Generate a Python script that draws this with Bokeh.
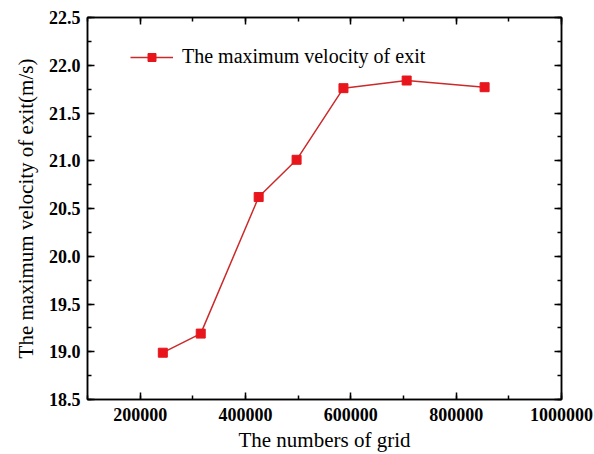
from bokeh.plotting import figure
from bokeh.models import (LinearAxis, SingleIntervalTicker, NumeralTickFormatter,
                          CustomJSTickFormatter, Legend, LegendItem, Range1d)
from bokeh.embed import file_html
from bokeh.resources import INLINE

grid_numbers = [243000, 315000, 425000, 497000, 586000, 706000, 854000]
max_velocity = [18.99, 19.19, 20.62, 21.01, 21.76, 21.84, 21.77]
series_name = "The maximum velocity of exit"
x_title = "The numbers of grid"
y_title = "The maximum velocity of exit(m/s)"

RED = "#e8161c"
LINE_RED = "#cc2a2a"
FONT = "Liberation Serif"

p = figure(width=594, height=454, output_backend="svg", toolbar_location=None,
           x_range=Range1d(100000, 1000000), y_range=Range1d(18.5, 22.5),
           min_border_left=87, min_border_right=33, min_border_top=17,
           min_border_bottom=55)
p.xgrid.visible = False
p.ygrid.visible = False
p.outline_line_color = "black"
p.outline_line_width = 1.5
p.background_fill_color = "white"
p.border_fill_color = "white"

xt = SingleIntervalTicker(interval=200000, num_minor_ticks=2)
yt = SingleIntervalTicker(interval=0.5, num_minor_ticks=2)

def style(ax, show_labels):
    ax.axis_line_width = 1.5
    ax.axis_line_color = "black"
    ax.major_tick_in = 7
    ax.major_tick_out = 0
    ax.minor_tick_in = 4
    ax.minor_tick_out = 0
    ax.major_tick_line_width = 1.5
    ax.minor_tick_line_width = 1.5
    if show_labels:
        ax.major_label_text_font = FONT
        ax.major_label_text_font_style = "bold"
        ax.major_label_text_font_size = "18px"
        ax.major_label_text_color = "black"
        ax.axis_label_text_font = FONT
        ax.axis_label_text_font_style = "normal"
        ax.axis_label_text_font_size = "21px"
        ax.axis_label_text_color = "black"
    else:
        ax.formatter = CustomJSTickFormatter(code="return ''")
        ax.major_label_standoff = 0

xa = p.xaxis[0]
xa.ticker = xt
xa.formatter = NumeralTickFormatter(format="0")
xa.axis_label = x_title
style(xa, True)
xa.major_label_standoff = 8
xa.axis_label_standoff = 4

ya = p.yaxis[0]
ya.ticker = yt
ya.formatter = NumeralTickFormatter(format="0.0")
ya.axis_label = y_title
style(ya, True)
ya.major_label_standoff = 7
ya.axis_label_standoff = 8

top = LinearAxis(ticker=SingleIntervalTicker(interval=200000, num_minor_ticks=2))
style(top, False)
p.add_layout(top, "above")
right = LinearAxis(ticker=SingleIntervalTicker(interval=0.5, num_minor_ticks=2))
style(right, False)
p.add_layout(right, "right")

ln = p.line(grid_numbers, max_velocity, line_color=LINE_RED, line_width=1.5)
sc = p.scatter(grid_numbers, max_velocity, marker="square", size=9,
               fill_color=RED, line_color=RED)

legend = Legend(items=[LegendItem(label=series_name, renderers=[ln, sc])],
                location=(43, 331), padding=0, margin=0,
                glyph_width=43, glyph_height=20, label_standoff=9,
                label_text_font=FONT, label_text_font_size="20px",
                label_text_color="black",
                border_line_color=None, background_fill_alpha=0)
p.add_layout(legend, "center")

open("out.html", "w").write(file_html(p, INLINE))
